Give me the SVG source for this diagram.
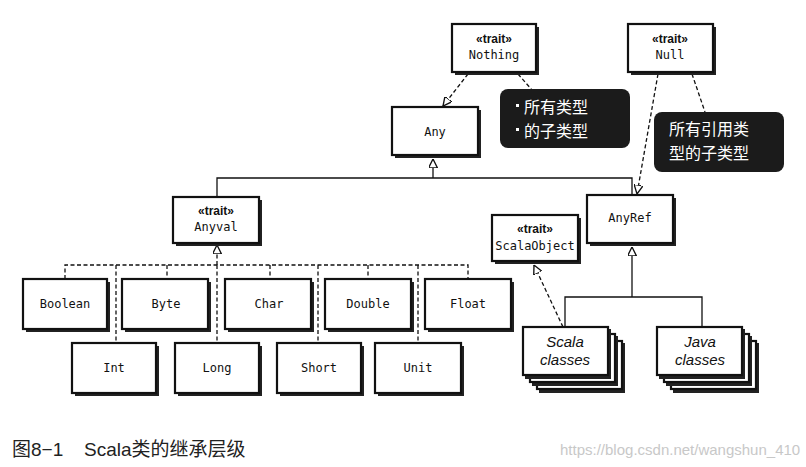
<svg xmlns="http://www.w3.org/2000/svg" width="806" height="467" viewBox="0 0 806 467">
<style>
.box{fill:#fff;stroke:#111;stroke-width:2.2}
.sh{fill:#222}
.t{font-family:"DejaVu Sans Mono","Liberation Mono",monospace;font-size:12px;fill:#111;text-anchor:middle}
.tr{font-family:"Liberation Sans",Arial,sans-serif;font-size:12px;font-weight:bold;fill:#111;text-anchor:middle}
.it{font-family:"Liberation Sans",Arial,sans-serif;font-size:15px;font-style:italic;fill:#111;text-anchor:middle}
.cn{font-family:"Noto Sans CJK SC",sans-serif;font-size:16px;fill:#fff}
.ln{fill:none;stroke:#111;stroke-width:1.3}
.ds{fill:none;stroke:#111;stroke-width:1.3;stroke-dasharray:4 2.5}
.cap{font-family:"Liberation Sans","Noto Sans CJK SC",sans-serif;font-size:19px;fill:#222}
.wm{font-family:"Liberation Sans",Arial,sans-serif;font-size:15px;fill:#c8c8c8}
</style>
<defs>
<marker id="tri" viewBox="0 0 10 10" refX="10" refY="5" markerWidth="9" markerHeight="9" orient="auto-start-reverse" markerUnits="userSpaceOnUse">
<path d="M0,0 L10,5 L0,10 Z" fill="#fff" stroke="#111" stroke-width="1.5"/>
</marker>
</defs>
<rect width="806" height="467" fill="#fff"/>

<g id="connectors">
<path class="ds" d="M468,74 L443,106" marker-end="url(#tri)"/>
<path class="ds" d="M518,74 L532,90"/>
<path class="ds" d="M658,74 L637,194" marker-end="url(#tri)"/>
<path class="ds" d="M692,74 L705,112"/>
<path class="ln" d="M433,178 L433,159" marker-end="url(#tri)"/>
<path class="ln" d="M217,197 L217,178 L632,178 L632,195"/>
<path class="ds" d="M217,265 L217,245" marker-end="url(#tri)"/>
<path class="ds" d="M65,279 L65,265 L468,265 L468,279 M167,265 L167,279 M270,265 L270,279 M368,265 L368,279 M116,265 L116,343 M217,265 L217,343 M318,265 L318,343 M418,265 L418,343"/>
<path class="ln" d="M632,297 L632,247" marker-end="url(#tri)"/>
<path class="ln" d="M565,327 L565,297 L702,297 L702,327"/>
<path class="ds" d="M563,327 L534,265" marker-end="url(#tri)"/>
</g>

<g id="nothing"><rect class="sh" x="455" y="27" width="84" height="48"/><rect class="box" x="452" y="24" width="84" height="48"/><text class="tr" x="494" y="43">«trait»</text><text class="t" x="494" y="59">Nothing</text></g>
<g id="null"><rect class="sh" x="631" y="27" width="85" height="48"/><rect class="box" x="628" y="24" width="85" height="48"/><text class="tr" x="670" y="43">«trait»</text><text class="t" x="670" y="59">Null</text></g>
<g id="note1"><rect x="500" y="89" width="130" height="59" rx="8" fill="#1b1b1b"/><rect x="516" y="104" width="3" height="3" fill="#fff"/><rect x="516" y="128" width="3" height="3" fill="#fff"/><text class="cn" x="524" y="113">所有类型</text><text class="cn" x="524" y="137">的子类型</text></g>
<g id="note2"><rect x="654" y="112" width="130" height="60" rx="8" fill="#1b1b1b"/><text class="cn" x="669" y="135">所有引用类</text><text class="cn" x="669" y="159">型的子类型</text></g>
<g id="any"><rect class="sh" x="395" y="110" width="86" height="48"/><rect class="box" x="392" y="107" width="86" height="48"/><text class="t" x="435" y="136">Any</text></g>
<g id="anyval"><rect class="sh" x="176" y="200" width="86" height="46"/><rect class="box" x="173" y="197" width="86" height="46"/><text class="tr" x="216" y="215">«trait»</text><text class="t" x="216" y="231">Anyval</text></g>
<g id="anyref"><rect class="sh" x="590" y="198" width="86" height="48"/><rect class="box" x="587" y="195" width="86" height="48"/><text class="t" x="630" y="222">AnyRef</text></g>
<g id="scalaobject"><rect class="sh" x="495" y="218" width="86" height="46"/><rect class="box" x="492" y="215" width="86" height="46"/><text class="tr" x="535" y="233">«trait»</text><text class="t" x="535" y="250">ScalaObject</text></g>

<g id="boolean"><rect class="sh" x="26" y="282" width="84" height="50"/><rect class="box" x="23" y="279" width="84" height="50"/><text class="t" x="65" y="308">Boolean</text></g>
<g id="byte"><rect class="sh" x="125" y="282" width="86" height="50"/><rect class="box" x="122" y="279" width="86" height="50"/><text class="t" x="166" y="308">Byte</text></g>
<g id="char"><rect class="sh" x="228" y="282" width="86" height="50"/><rect class="box" x="225" y="279" width="86" height="50"/><text class="t" x="269" y="308">Char</text></g>
<g id="double"><rect class="sh" x="328" y="282" width="86" height="50"/><rect class="box" x="325" y="279" width="86" height="50"/><text class="t" x="368" y="308">Double</text></g>
<g id="float"><rect class="sh" x="428" y="282" width="86" height="50"/><rect class="box" x="425" y="279" width="86" height="50"/><text class="t" x="468" y="308">Float</text></g>

<g id="int"><rect class="sh" x="75" y="346" width="84" height="50"/><rect class="box" x="72" y="343" width="84" height="50"/><text class="t" x="114" y="372">Int</text></g>
<g id="long"><rect class="sh" x="178" y="346" width="84" height="50"/><rect class="box" x="175" y="343" width="84" height="50"/><text class="t" x="217" y="372">Long</text></g>
<g id="short"><rect class="sh" x="280" y="346" width="84" height="50"/><rect class="box" x="277" y="343" width="84" height="50"/><text class="t" x="319" y="372">Short</text></g>
<g id="unit"><rect class="sh" x="378" y="346" width="86" height="50"/><rect class="box" x="375" y="343" width="86" height="50"/><text class="t" x="418" y="372">Unit</text></g>

<g id="scalaclasses">
<rect class="sh" x="539" y="343" width="86" height="50"/><rect class="box" x="537" y="341" width="85" height="48"/>
<rect class="sh" x="532" y="336" width="86" height="50"/><rect class="box" x="530" y="334" width="85" height="48"/>
<rect class="sh" x="525" y="329" width="86" height="50"/><rect class="box" x="523" y="327" width="85" height="48"/>
<text class="it" x="565" y="347">Scala</text><text class="it" x="565" y="365">classes</text></g>
<g id="javaclasses">
<rect class="sh" x="673" y="343" width="86" height="50"/><rect class="box" x="671" y="341" width="85" height="48"/>
<rect class="sh" x="666" y="336" width="86" height="50"/><rect class="box" x="664" y="334" width="85" height="48"/>
<rect class="sh" x="659" y="329" width="86" height="50"/><rect class="box" x="657" y="327" width="85" height="48"/>
<text class="it" x="700" y="347">Java</text><text class="it" x="700" y="365">classes</text></g>

<text class="cap" x="12" y="456">图8−1</text>
<text class="cap" x="84" y="456">Scala类的继承层级</text>
<text class="wm" x="560" y="455">https://blog.csdn.net/wangshun_410</text>
</svg>
